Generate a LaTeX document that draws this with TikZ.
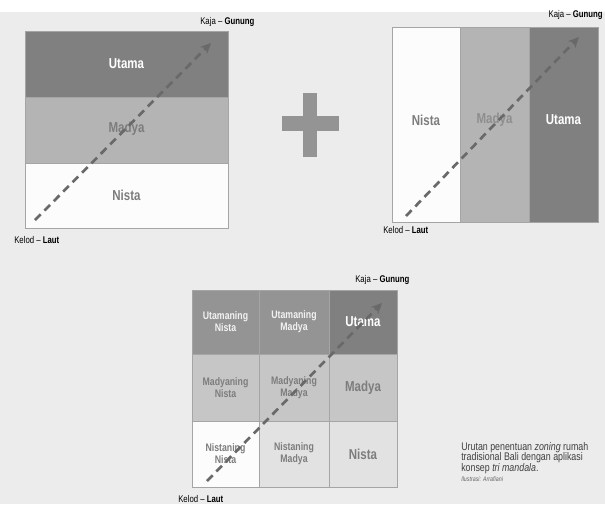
\documentclass[tikz,border=0pt]{standalone}
\usepackage{fontspec}
\setmainfont{Liberation Sans}[FakeStretch=0.8]
\usetikzlibrary{arrows.meta}

\definecolor{paper}{RGB}{236,236,236}
\definecolor{utamagrey}{RGB}{128,128,128}
\definecolor{madyagrey}{RGB}{180,180,180}
\definecolor{nistawhite}{RGB}{252,252,252}
\definecolor{topgrey}{RGB}{148,148,148}
\definecolor{midgrey}{RGB}{198,198,198}
\definecolor{lowgrey}{RGB}{226,226,226}
\definecolor{edgegrey}{RGB}{165,165,165}
\definecolor{textgrey}{RGB}{125,125,125}
\definecolor{arrowgrey}{RGB}{105,105,105}

\tikzset{
	bandline/.style={draw=edgegrey, line width=0.5},
	bigtext/.style={font=\bfseries\fontsize{10.8}{12}\selectfont},
	celltext/.style={font=\bfseries\fontsize{8.2}{9}\selectfont, align=center, text=textgrey},
	tagtext/.style={font=\fontsize{7.3}{8}\selectfont, inner sep=0pt},
	flow/.style={draw=arrowgrey, line width=2, dash pattern=on 6pt off 4pt, -{Stealth[length=8pt,width=7.5pt]}}}

\begin{document}
\begin{tikzpicture}[x=0.75pt,y=0.75pt,yscale=-1,xscale=1]
	\useasboundingbox (0,0) rectangle (605,504);
	% paper
	\fill[paper] (0,12) rectangle (605,504);

	% first square: horizontal bands
	\fill[utamagrey] (25,31) rectangle (228,97);
	\fill[madyagrey] (25,97) rectangle (228,163);
	\fill[nistawhite] (25,163) rectangle (228,228);
	\draw[bandline] (25,31) rectangle (228,228) (25,97) -- (228,97) (25,163) -- (228,163);
	\node[bigtext, text=white] (utamaA) at (126.5,64) {Utama};
	\node[bigtext, text=textgrey] (madyaA) at (126.5,129) {Madya};
	\node[bigtext, text=textgrey] (nistaA) at (126.5,195) {Nista};
	\coordinate (kelodA) at (35,220);
	\coordinate (kajaA) at (211,43);
	\draw[flow] (kelodA) -- (kajaA);
	\node[tagtext, anchor=west] (kajalabelA) at (200,22) {Kaja -- \textbf{Gunung}};
	\node[tagtext, anchor=west] (kelodlabelA) at (14,240) {Kelod -- \textbf{Laut}};

	% plus sign
	\fill[topgrey] (303,93) rectangle (317,157);
	\fill[topgrey] (282,116) rectangle (339,131);

	% second square: vertical bands
	\fill[nistawhite] (392,27) rectangle (460,222);
	\fill[madyagrey] (460,27) rectangle (529,222);
	\fill[utamagrey] (529,27) rectangle (598,222);
	\draw[bandline] (392,27) rectangle (598,222) (460,27) -- (460,222) (529,27) -- (529,222);
	\node[bigtext, text=textgrey] (nistaB) at (426,120) {Nista};
	\node[bigtext, text=textgrey!70!madyagrey] (madyaB) at (494.5,120) {Madya};
	\node[bigtext, text=white] (utamaB) at (563.5,120) {Utama};
	\coordinate (kelodB) at (406,216);
	\coordinate (kajaB) at (579,37);
	\draw[flow] (kelodB) -- (kajaB);
	\node[tagtext, anchor=east] (kajalabelB) at (603,15) {Kaja -- \textbf{Gunung}};
	\node[tagtext, anchor=west] (kelodlabelB) at (383,230) {Kelod -- \textbf{Laut}};

	% third square: nine zones
	\fill[topgrey] (192,290) rectangle (329,354);
	\fill[utamagrey] (329,290) rectangle (397,354);
	\fill[midgrey] (192,354) rectangle (397,421);
	\fill[lowgrey] (192,421) rectangle (397,487);
	\fill[nistawhite] (192,421) rectangle (259,487);
	\draw[bandline] (192,290) rectangle (397,487)
		(259,290) -- (259,487) (329,290) -- (329,487)
		(192,354) -- (397,354) (192,421) -- (397,421);
	\node[celltext, text=white!88!topgrey] (utnista) at (225.5,322) {Utamaning\\Nista};
	\node[celltext, text=white!88!topgrey] (utmadya) at (294,322) {Utamaning\\Madya};
	\node[bigtext, text=white] (ututama) at (363,322) {Utama};
	\node[celltext] (mdnista) at (225.5,387.5) {Madyaning\\Nista};
	\node[celltext] (mdmadya) at (294,387.5) {Madyaning\\Madya};
	\node[bigtext, text=textgrey] (mdutama) at (363,387.5) {Madya};
	\node[celltext] (nsnista) at (225.5,454) {Nistaning\\Nista};
	\node[celltext] (nsmadya) at (294,454) {Nistaning\\Madya};
	\node[bigtext, text=textgrey] (nsutama) at (363,454) {Nista};
	\coordinate (kelodC) at (207,481);
	\coordinate (kajaC) at (382,303);
	\draw[flow] (kelodC) -- (kajaC);
	\node[tagtext, anchor=west] (kajalabelC) at (355,280) {Kaja -- \textbf{Gunung}};
	\node[tagtext, anchor=west] (kelodlabelC) at (178,499) {Kelod -- \textbf{Laut}};

	% caption
	\node[anchor=north west, align=left, inner sep=0pt, text=black!75, font=\fontsize{8.3}{7.9}\selectfont] (caption) at (461,442)
		{Urutan penentuan \textit{zoning} rumah\\tradisional Bali dengan aplikasi\\konsep \textit{tri mandala}.};
	\node[anchor=north west, inner sep=0pt, text=black!60, font=\itshape\fontsize{5}{6}\selectfont] (credit) at (461,476) {Ilustrasi: Arrafiani};
\end{tikzpicture}
\end{document}
